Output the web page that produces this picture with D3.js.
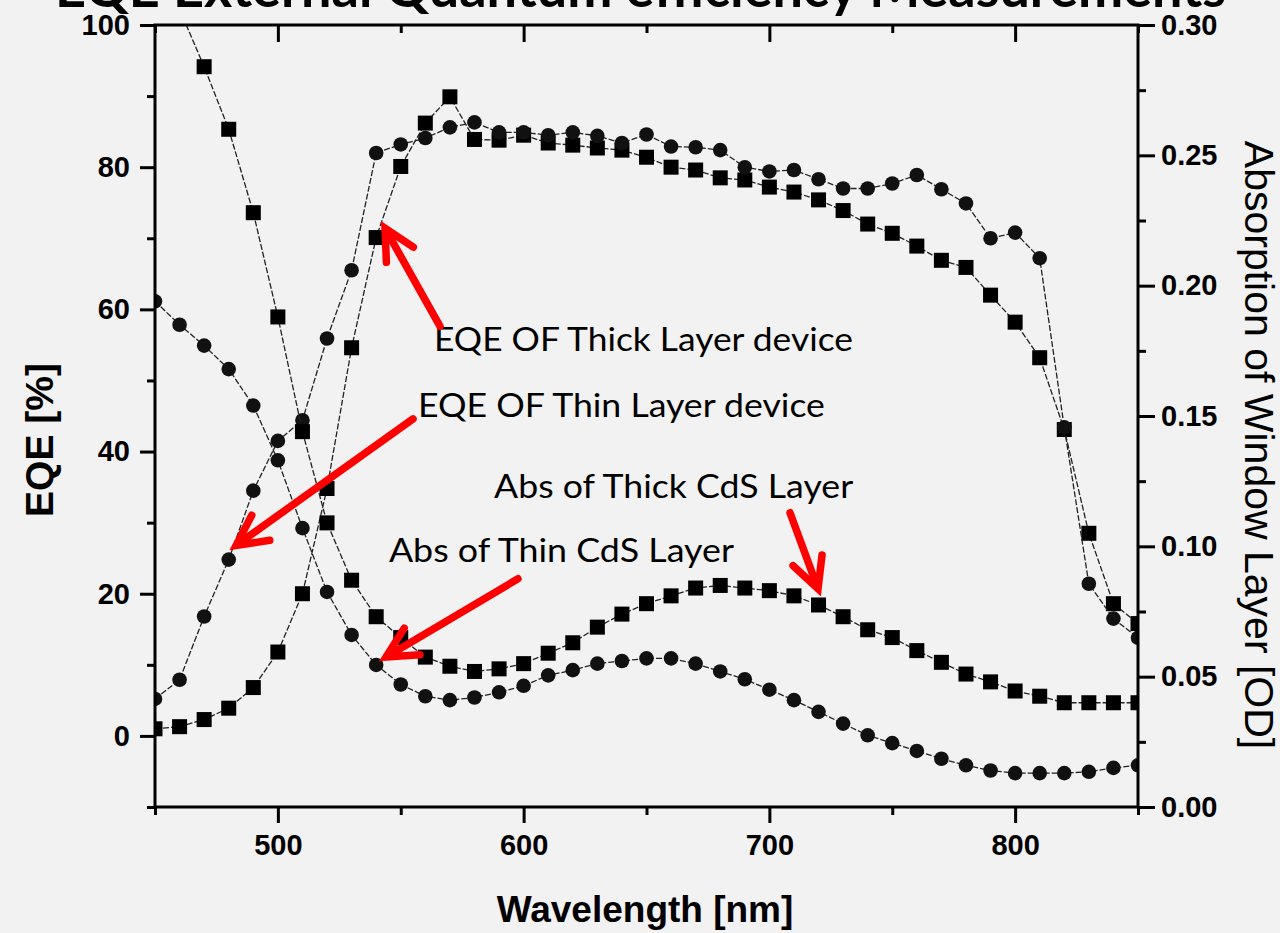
<!DOCTYPE html>
<html>
<head>
<meta charset="utf-8">
<script src="https://cdn.jsdelivr.net/npm/d3@7"></script>
<style>
  html, body { margin: 0; padding: 0; background: #f2f2f2; overflow: hidden; }
  svg { display: block; }
</style>
</head>
<body>
<svg width="1280" height="933"></svg>
<script>
// wavelength steps (nm)
var wavelength = [450, 460, 470, 480, 490, 500, 510, 520, 530, 540, 550, 560, 570, 580, 590,
  600, 610, 620, 630, 640, 650, 660, 670, 680, 690, 700, 710, 720, 730, 740, 750,
  760, 770, 780, 790, 800, 810, 820, 830, 840, 850];

// EQE [%] (left axis)
var eqeThick = [1.0, 1.3, 2.3, 3.9, 6.8, 11.8, 20.0, 34.8, 54.6, 70.1, 80.1, 86.2, 89.9, 83.9, 83.8,
  84.5, 83.4, 83.1, 82.7, 82.4, 81.4, 80.0, 79.6, 78.5, 78.2, 77.2, 76.5, 75.4, 73.9, 72.0, 70.7,
  68.9, 66.9, 65.9, 62.0, 58.2, 53.2, 43.1, 28.5, 18.6, 15.8];
var eqeThin = [5.2, 7.9, 16.8, 24.8, 34.5, 41.5, 44.4, 55.9, 65.5, 82.0, 83.2, 84.1, 85.6, 86.3, 84.9,
  84.9, 84.5, 84.9, 84.4, 83.4, 84.6, 82.9, 82.8, 82.4, 80.0, 79.4, 79.6, 78.3, 77.0, 77.0, 77.7,
  78.9, 76.9, 74.9, 70.0, 70.8, 67.2, 43.4, 21.4, 16.5, 13.8];

// absorption of window layer [OD] (right axis)
var absThick = [0.325, 0.306, 0.284, 0.260, 0.228, 0.188, 0.144, 0.109, 0.087, 0.073, 0.065, 0.0575, 0.054, 0.052, 0.053,
  0.055, 0.059, 0.063, 0.069, 0.074, 0.078, 0.081, 0.084, 0.085, 0.084, 0.083, 0.081, 0.0775, 0.073, 0.068, 0.065,
  0.060, 0.0555, 0.051, 0.048, 0.0445, 0.0425, 0.040, 0.040, 0.040, 0.040];
var absThin = [0.194, 0.185, 0.177, 0.168, 0.154, 0.133, 0.107, 0.0825, 0.066, 0.0545, 0.047, 0.0425, 0.041, 0.042, 0.044,
  0.0465, 0.0505, 0.0525, 0.055, 0.056, 0.057, 0.057, 0.055, 0.052, 0.049, 0.045, 0.041, 0.0365, 0.032, 0.0275, 0.0245,
  0.0215, 0.0185, 0.016, 0.014, 0.013, 0.013, 0.013, 0.0135, 0.015, 0.016];

var xTicks = [500, 600, 700, 800];
var xMinor = [450, 550, 650, 750, 850];
var yTicks = [0, 20, 40, 60, 80, 100];
var yMinor = [-10, 10, 30, 50, 70, 90];
var y2Ticks = [0, 0.05, 0.10, 0.15, 0.20, 0.25, 0.30];
var y2Minor = [0.025, 0.075, 0.125, 0.175, 0.225, 0.275];

// annotations: [text, x nm, y %, tail x, tail y, tip x, tip y]
var notes = [
  ['EQE OF Thick Layer device', 563.5, 54.1, 419, 566, 57.6, 543.6, 71.4],
  ['EQE OF Thin Layer device', 557.0, 44.8, 407, 555, 44.6, 483, 26.8],
  ['Abs of Thick CdS Layer', 588.0, 33.5, 359, 708.4, 31.4, 719.8, 20.7],
  ['Abs of Thin CdS Layer', 545.2, 24.5, 345, 597.7, 22.1, 544, 11.1]
];

var margin = {top: 25, left: 155, right: 142, bottom: 126};
var width = 1280, height = 933;
var svg = d3.select('svg');

var xScale = d3.scaleLinear().domain([450, 850]).range([margin.left, width - margin.right]);
var yScale = d3.scaleLinear().domain([-10, 100]).range([height - margin.bottom, margin.top]);
var y2Scale = d3.scaleLinear().domain([0, 0.30]).range([height - margin.bottom, margin.top]);

var x0 = margin.left, x1 = width - margin.right, yTop = margin.top, yBot = height - margin.bottom;

// title, clipped at top of page
svg.append('text')
  .attr('x', 1226)
  .attr('y', 7)
  .attr('text-anchor', 'end')
  .attr('font-family', 'Lato, "Open Sans", sans-serif')
  .attr('font-weight', 'bold')
  .attr('font-size', 54)
  .attr('fill', '#000')
  .text('EQE External Quantum efficiency Measurements');

svg.append('clipPath').attr('id', 'plot')
  .append('rect')
  .attr('x', x0).attr('y', yTop)
  .attr('width', x1 - x0).attr('height', yBot - yTop);

var plot = svg.append('g').attr('clip-path', 'url(#plot)');

var series = [
  {vals: eqeThick, scale: yScale, shape: 'square'},
  {vals: eqeThin, scale: yScale, shape: 'circle'},
  {vals: absThick, scale: y2Scale, shape: 'square'},
  {vals: absThin, scale: y2Scale, shape: 'circle'}
];

series.forEach(s => {
  var pts = wavelength.map((w, i) => [w, s.vals[i]]);
  var line = d3.line()
    .x(d => xScale(d[0]))
    .y(d => s.scale(d[1]));
  plot.append('path')
    .attr('d', line(pts))
    .attr('fill', 'none')
    .attr('stroke', '#222')
    .attr('stroke-width', 1.3)
    .attr('stroke-dasharray', '6,2');
  if (s.shape === 'square') {
    plot.selectAll(null)
      .data(pts)
      .enter()
      .append('rect')
      .attr('x', d => xScale(d[0]) - 7.5)
      .attr('y', d => s.scale(d[1]) - 7.5)
      .attr('width', 15)
      .attr('height', 15)
      .attr('fill', '#000');
  } else {
    plot.selectAll(null)
      .data(pts)
      .enter()
      .append('circle')
      .attr('cx', d => xScale(d[0]))
      .attr('cy', d => s.scale(d[1]))
      .attr('r', 7.3)
      .attr('fill', '#111');
  }
});

// axes
function styleAxis(g, labelSize) {
  g.select('.domain').remove();
  g.selectAll('line').attr('stroke', '#000').attr('stroke-width', 3);
  g.selectAll('text')
    .attr('font-family', '"Liberation Sans", Arial, sans-serif')
    .attr('font-weight', 'bold')
    .attr('font-size', labelSize)
    .attr('fill', '#000');
}

svg.append('g')
  .attr('transform', `translate(${x0},0)`)
  .call(d3.axisLeft(yScale).tickValues(yTicks).tickSize(15).tickPadding(10).tickFormat(d3.format('d')))
  .call(g => styleAxis(g, 29));
svg.append('g')
  .attr('transform', `translate(${x0},0)`)
  .call(d3.axisLeft(yScale).tickValues(yMinor).tickSize(8).tickFormat(''))
  .call(g => styleAxis(g, 29));

svg.append('g')
  .attr('transform', `translate(${x1},0)`)
  .call(d3.axisRight(y2Scale).tickValues(y2Ticks).tickSize(17).tickPadding(6).tickFormat(d3.format('.2f')))
  .call(g => styleAxis(g, 29));
svg.append('g')
  .attr('transform', `translate(${x1},0)`)
  .call(d3.axisRight(y2Scale).tickValues(y2Minor).tickSize(8).tickFormat(''))
  .call(g => styleAxis(g, 29));

svg.append('g')
  .attr('transform', `translate(0,${yBot})`)
  .call(d3.axisBottom(xScale).tickValues(xTicks).tickSize(16).tickPadding(11).tickFormat(d3.format('d')))
  .call(g => styleAxis(g, 29));
svg.append('g')
  .attr('transform', `translate(0,${yBot})`)
  .call(d3.axisBottom(xScale).tickValues(xMinor).tickSize(8).tickFormat(''))
  .call(g => styleAxis(g, 29));

svg.append('g')
  .attr('transform', `translate(0,${yTop})`)
  .call(d3.axisTop(xScale).tickValues(xTicks).tickSize(-17).tickFormat(''))
  .call(g => styleAxis(g, 29));
svg.append('g')
  .attr('transform', `translate(0,${yTop})`)
  .call(d3.axisTop(xScale).tickValues(xMinor).tickSize(-8).tickFormat(''))
  .call(g => styleAxis(g, 29));

// frame
svg.append('rect')
  .attr('x', x0).attr('y', yTop)
  .attr('width', x1 - x0).attr('height', yBot - yTop)
  .attr('fill', 'none')
  .attr('stroke', '#000')
  .attr('stroke-width', 3);

// axis titles
svg.append('text')
  .attr('transform', `translate(645,922)`)
  .attr('text-anchor', 'middle')
  .attr('font-family', '"Liberation Sans", Arial, sans-serif')
  .attr('font-weight', 'bold')
  .attr('font-size', 37)
  .text('Wavelength [nm]');

svg.append('text')
  .attr('transform', `translate(53,440) rotate(-90)`)
  .attr('text-anchor', 'middle')
  .attr('font-family', '"Liberation Sans", Arial, sans-serif')
  .attr('font-weight', 'bold')
  .attr('font-size', 39)
  .text('EQE [%]');

svg.append('text')
  .attr('transform', `translate(1245,445) rotate(90)`)
  .attr('text-anchor', 'middle')
  .attr('font-family', '"Liberation Sans", Arial, sans-serif')
  .attr('font-size', 41)
  .text('Absorption of Window Layer [OD]');

// annotations
var ann = svg.append('g');
notes.forEach(n => {
  ann.append('text')
    .attr('x', xScale(n[1]))
    .attr('y', yScale(n[2]))
    .attr('font-family', 'Lato, "Open Sans", sans-serif')
    .attr('font-size', 32)
    .attr('textLength', n[3])
    .attr('lengthAdjust', 'spacingAndGlyphs')
    .attr('fill', '#000')
    .text(n[0]);

  var tx = xScale(n[4]), ty = yScale(n[5]);
  var hx = xScale(n[6]), hy = yScale(n[7]);
  var ang = Math.atan2(ty - hy, tx - hx);
  var len = 34, spread = 27 * Math.PI / 180;
  var w1 = [hx + len * Math.cos(ang - spread), hy + len * Math.sin(ang - spread)];
  var w2 = [hx + len * Math.cos(ang + spread), hy + len * Math.sin(ang + spread)];

  ann.append('line')
    .attr('x1', tx).attr('y1', ty)
    .attr('x2', hx + 3 * Math.cos(ang)).attr('y2', hy + 3 * Math.sin(ang))
    .attr('stroke', '#ff0000')
    .attr('stroke-width', 7.5)
    .attr('stroke-linecap', 'round');
  ann.append('path')
    .attr('d', d3.line()([w1, [hx, hy], w2]))
    .attr('fill', 'none')
    .attr('stroke', '#ff0000')
    .attr('stroke-width', 7.5)
    .attr('stroke-linecap', 'round')
    .attr('stroke-linejoin', 'miter');
});
</script>
</body>
</html>
